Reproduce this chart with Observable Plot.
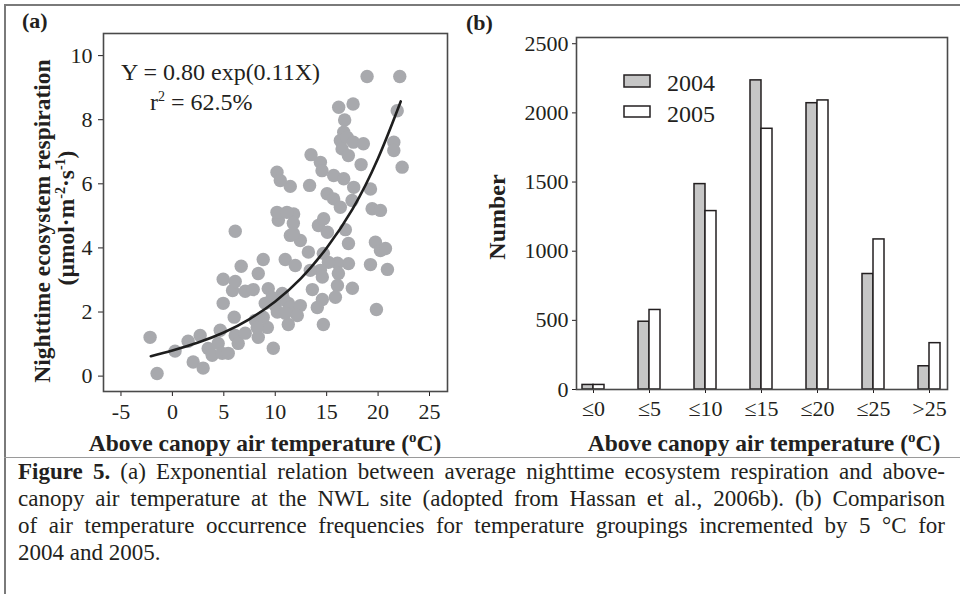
<!DOCTYPE html>
<html>
<head>
<meta charset="utf-8">
<script src="https://cdn.jsdelivr.net/npm/d3@7"></script>
<script src="https://cdn.jsdelivr.net/npm/@observablehq/plot@0.6"></script>
<style>
  html, body { margin: 0; padding: 0; background: #fff; }
  #page { position: relative; width: 960px; height: 594px; overflow: hidden; background: #fff;
          font-family: "Liberation Serif", "Times New Roman", serif; color: #231f20; }
  .abs { position: absolute; }
  #caption { position: absolute; left: 18px; top: 458px; width: 927px; font-size: 20px; line-height: 27px; }
  #caption div { text-align: justify; text-align-last: justify; white-space: nowrap; }
  #caption div.last { text-align-last: left; }
  svg text { font-family: "Liberation Serif", "Times New Roman", serif; }
</style>
</head>
<body>
<div id="page">
  <div class="abs" style="left:4px;top:4px;width:956px;border-top:2px solid #7a7a7a;"></div>
  <div class="abs" style="left:4px;top:4px;height:590px;border-left:2px solid #7a7a7a;"></div>
  <div class="abs" style="left:4px;top:457px;width:956px;border-top:1px solid #9a9a9a;"></div>
  <div id="panelA" class="abs" style="left:0;top:0;"></div>
  <div id="panelB" class="abs" style="left:450px;top:0;"></div>
  <div id="caption">
    <div id="cap1"><b>Figure 5.</b> (a) Exponential relation between average nighttime ecosystem respiration and above-</div>
    <div>canopy air temperature at the NWL site (adopted from Hassan et al., 2006b). (b) Comparison</div>
    <div>of air temperature occurrence frequencies for temperature groupings incremented by 5 °C for</div>
    <div class="last">2004 and 2005.</div>
  </div>
</div>
<script>
// ---------- Panel (a) data: scatter of temperature vs respiration ----------
const tempA = [-2.17,-1.49,0.26,1.53,2.02,2.70,2.99,3.48,3.87,4.45,4.65,4.84,5.43,6.11,6.40,7.08,8.35,9.81,
  6.01,8.06,9.23,11.27,4.94,9.03,10.0,11.27,5.85,7.08,7.86,9.32,10.68,4.94,6.11,8.35,6.69,8.83,10.97,6.11,
  10.3,11.47,9.71,10.79,11.47,12.44,8.83,8.25,10.2,10.97,12.14,14.2,15.07,16.82,17.12,19.74,20.23,20.72,
  19.26,20.91,17.12,16.05,15.17,14.68,13.22,12.44,11.76,11.95,14.39,13.41,16.14,14.58,16.05,17.5,13.61,
  15.85,14.58,14.09,14.68,19.84,18.93,22.11,16.17,17.57,21.86,16.75,16.66,16.33,16.99,17.6,18.57,16.5,
  17.11,21.53,21.53,22.34,18.35,13.48,14.39,14.55,15.68,16.66,11.46,13.34,15.04,15.68,17.63,19.26,17.47,
  16.33,19.42,20.23,14.71,11.79,10.17,10.49,10.17,11.14,11.76];
const respA = [1.21,0.08,0.78,1.09,0.44,1.27,0.25,0.86,0.65,1.02,1.43,0.71,0.71,1.27,1.02,1.34,1.21,0.87,
  1.84,1.74,1.52,1.61,2.27,2.27,2.20,2.27,2.67,2.65,2.70,2.73,2.58,3.02,2.95,3.20,3.43,3.64,3.64,4.52,
  4.86,4.39,2.45,2.42,2.14,2.20,1.84,1.52,2.0,1.96,1.89,4.70,4.49,4.57,4.14,4.18,3.92,3.98,
  3.48,3.33,3.51,3.52,3.55,3.83,3.87,4.23,4.45,3.45,3.30,3.30,3.20,3.09,2.83,2.74,2.70,
  2.46,2.39,2.14,1.61,2.08,9.35,9.35,8.39,8.49,8.28,7.99,7.61,7.35,7.45,7.30,7.25,7.09,
  6.88,7.30,7.04,6.52,6.60,6.91,6.67,6.41,6.26,6.16,5.92,5.95,5.69,5.53,5.89,5.84,5.48,
  5.27,5.22,5.17,4.91,5.06,6.36,6.10,5.11,5.11,4.77];
// fitted curve Y = 0.80 exp(0.11X)
const curveT = [-2.1, 0, 2.5, 5, 7.5, 10, 12.5, 15, 17.5, 20, 22.2];
const curveR = [0.62, 0.80, 1.05, 1.36, 1.78, 2.33, 3.05, 4.0, 5.2, 6.8, 8.57];
const xTicksA = [-5, 0, 5, 10, 15, 20, 25];
const yTicksA = [0, 2, 4, 6, 8, 10];

// ---------- Panel (b) data: occurrence counts ----------
const categories = ["≤0", "≤5", "≤10", "≤15", "≤20", "≤25", ">25"];
const count2004 = [33, 490, 1485, 2235, 2070, 835, 168];
const count2005 = [33, 575, 1290, 1885, 2090, 1085, 335];
const yTicksB = [0, 500, 1000, 1500, 2000, 2500];

const ink = "#231f20";
const font = '"Liberation Serif", "Times New Roman", serif';

const scatter = tempA.map((t, i) => ({t, r: respA[i]}));
const curve = curveT.map((t, i) => ({t, r: curveR[i]}));

const plotA = Plot.plot({
  width: 460, height: 460,
  marginLeft: 103, marginRight: 13, marginTop: 33, marginBottom: 69,
  style: {fontFamily: font, fontSize: "22px", color: ink, background: "transparent"},
  x: {domain: [-6.7, 26.75], ticks: xTicksA, tickFormat: d => String(d), label: null, tickSize: 5, tickPadding: 7},
  y: {domain: [-0.48, 10.69], ticks: yTicksA, tickFormat: d => String(d), label: null, tickSize: 5, tickPadding: 6},
  marks: [
    Plot.dot(scatter, {x: "t", y: "r", r: 6.7, fill: "#a8a9ad", stroke: "none"}),
    Plot.line(curve, {x: "t", y: "r", curve: "natural", stroke: "#1e1e1e", strokeWidth: 2.6}),
    Plot.frame({stroke: "#4a4a4a", strokeWidth: 1.6})
  ]
});
document.getElementById("panelA").appendChild(plotA);

const pi = 0.607, po = 0.116, rangeW = 371;
const bw = rangeW / (categories.length - pi + 2 * po) * (1 - pi);
const rows2004 = categories.map((c, i) => ({c, n: count2004[i]}));
const rows2005 = categories.map((c, i) => ({c, n: count2005[i]}));

const plotB = Plot.plot({
  width: 510, height: 460,
  marginLeft: 126, marginRight: 13, marginTop: 37, marginBottom: 71,
  style: {fontFamily: font, fontSize: "22px", color: ink, background: "transparent"},
  x: {type: "band", domain: categories, paddingInner: pi, paddingOuter: po, label: null, tickSize: 4, tickPadding: 7},
  y: {domain: [0, 2545], ticks: yTicksB, tickFormat: d => String(d), label: null, tickSize: 4, tickPadding: 4},
  marks: [
    Plot.barY(rows2004, {x: "c", y: "n", fill: "#c6c6c6", stroke: ink, strokeWidth: 1.5, insetRight: bw / 2}),
    Plot.barY(rows2005, {x: "c", y: "n", fill: "#ffffff", stroke: ink, strokeWidth: 1.5, insetLeft: bw / 2}),
    Plot.frame({stroke: "#4a4a4a", strokeWidth: 1.6})
  ]
});
document.getElementById("panelB").appendChild(plotB);

// ---------- overlay: panel labels, axis titles, equation, legend ----------
const svg = d3.select("#page").append("svg")
  .attr("width", 960).attr("height", 594)
  .style("position", "absolute").style("left", 0).style("top", 0)
  .style("pointer-events", "none")
  .style("font-family", font).style("fill", ink);

svg.append("text").attr("x", 22).attr("y", 28).attr("font-size", 22).attr("font-weight", "bold").text("(a)");
svg.append("text").attr("x", 466).attr("y", 30).attr("font-size", 22).attr("font-weight", "bold").text("(b)");

function xTitle(cx) {
  const t = svg.append("text").attr("x", cx).attr("y", 451).attr("text-anchor", "middle")
    .attr("font-size", 23.5).attr("font-weight", "bold");
  t.append("tspan").text("Above canopy air temperature (");
  t.append("tspan").attr("font-size", 15).attr("dy", -9).text("o");
  t.append("tspan").attr("dy", 9).text("C)");
}
xTitle(265);
xTitle(764);

svg.append("text").attr("transform", "translate(50,221) rotate(-90)").attr("text-anchor", "middle")
  .attr("font-size", 23.5).attr("font-weight", "bold").text("Nighttime ecosystem respiration");
const l2 = svg.append("text").attr("transform", "translate(74,218) rotate(-90)").attr("text-anchor", "middle")
  .attr("font-size", 23.5).attr("font-weight", "bold");
l2.append("tspan").text("(µmol·m");
l2.append("tspan").attr("font-size", 14).attr("dy", -9).text("-2");
l2.append("tspan").attr("dy", 9).text("·s");
l2.append("tspan").attr("font-size", 14).attr("dy", -9).text("-1");
l2.append("tspan").attr("dy", 9).text(")");

svg.append("text").attr("transform", "translate(505,217) rotate(-90)").attr("text-anchor", "middle")
  .attr("font-size", 24).attr("font-weight", "bold").text("Number");

svg.append("text").attr("x", 121).attr("y", 80).attr("font-size", 24).text("Y = 0.80 exp(0.11X)");
const r2 = svg.append("text").attr("x", 150).attr("y", 110).attr("font-size", 24);
r2.append("tspan").text("r");
r2.append("tspan").attr("font-size", 14).attr("dy", -9).text("2");
r2.append("tspan").attr("dy", 9).text(" = 62.5%");

// legend
svg.append("rect").attr("x", 624).attr("y", 75).attr("width", 26).attr("height", 12)
  .attr("fill", "#c6c6c6").attr("stroke", ink).attr("stroke-width", 1.5);
svg.append("rect").attr("x", 624).attr("y", 106).attr("width", 26).attr("height", 11)
  .attr("fill", "#fff").attr("stroke", ink).attr("stroke-width", 1.5);
svg.append("text").attr("x", 667).attr("y", 91).attr("font-size", 24).text("2004");
svg.append("text").attr("x", 667).attr("y", 122).attr("font-size", 24).text("2005");

// caption: size the font so the first line naturally fills the justified width
const cap = document.getElementById("caption");
const probe = document.createElement("span");
probe.style.whiteSpace = "nowrap";
probe.style.visibility = "hidden";
probe.style.position = "absolute";
probe.innerHTML = document.getElementById("cap1").innerHTML;
cap.appendChild(probe);
const natural = probe.getBoundingClientRect().width;
cap.removeChild(probe);
const fs = Math.min(23, 20 * 915 / natural);
cap.style.fontSize = fs + "px";
</script>
</body>
</html>
